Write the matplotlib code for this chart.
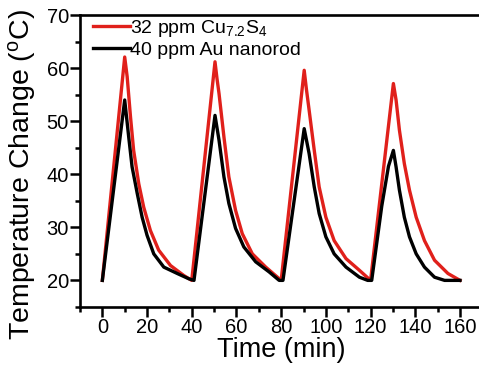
import matplotlib.pyplot as plt
from matplotlib.ticker import MultipleLocator

plt.rcParams["font.family"] = "Liberation Sans"
plt.rcParams["mathtext.fontset"] = "custom"
plt.rcParams["mathtext.rm"] = "Liberation Sans"
plt.rcParams["mathtext.it"] = "Liberation Sans"

# 32 ppm Cu7.2S4 (red)
t_cu = [0, 10, 11.1, 12.6, 14.0, 16.3, 18.5, 21.5, 25.2, 30.5, 36.5, 40,
        50.4, 51.3, 52.2, 54.4, 56.6, 59.6, 62.6, 67.1, 73.1, 80,
        90.3, 91.3, 92.5, 94.8, 97.0, 100, 103.7, 109, 115, 120,
        130.2, 131.4, 132.9, 135.1, 137.4, 140.4, 144.1, 148.6, 154.6, 160]
temp_cu = [20, 62.1, 58.4, 50.8, 44.5, 38.2, 33.8, 29.4, 25.7, 22.8, 20.9, 20,
           61.2, 58.0, 55.2, 47.0, 39.5, 33.2, 28.8, 25.0, 22.5, 20,
           59.6, 56.0, 52.1, 44.5, 37.6, 31.9, 27.5, 24.1, 21.9, 20,
           57.1, 54.0, 48.3, 42.0, 37.0, 31.9, 27.5, 23.8, 21.3, 20]

# 40 ppm Au nanorod (black)
t_au = [0, 10, 11.8, 13.3, 15.6, 17.8, 20.0, 23.0, 27.5, 33.5, 38.7, 41,
        50.4, 52.2, 54.4, 56.6, 59.6, 63.3, 68.6, 74.6, 79.1, 80.8,
        90.3, 92.5, 94.8, 97.0, 100, 103.7, 109, 115, 118.7, 120.5,
        125.0, 128.0, 130.2, 131.4, 132.9, 135.1, 137.4, 140.4, 144.1, 148.6, 153.1, 160]
temp_au = [20, 54.0, 47.0, 41.4, 36.4, 31.9, 28.5, 25.0, 22.5, 21.3, 20.3, 20,
           51.1, 46.4, 39.5, 34.5, 29.8, 26.3, 23.5, 21.6, 20, 20,
           48.6, 43.9, 37.6, 32.6, 28.2, 25.0, 22.5, 20.6, 20, 20,
           34.0, 41.5, 44.5, 41.4, 37.0, 31.9, 28.2, 25.0, 22.5, 20.6, 20, 20]

fig = plt.figure(figsize=(4.79, 3.68), dpi=100)
ax = fig.add_axes([0.167, 0.166, 0.84, 0.793])

ax.plot(t_cu, temp_cu, color="#e0201b", lw=2.4, label=r"32 ppm Cu$_{7.2}$S$_{4}$")
ax.plot(t_au, temp_au, color="black", lw=2.4, label="40 ppm Au nanorod")

ax.set_xlim(-10, 170)
ax.set_ylim(15, 70)
ax.xaxis.set_major_locator(MultipleLocator(20))
ax.xaxis.set_minor_locator(MultipleLocator(10))
ax.yaxis.set_major_locator(MultipleLocator(10))
ax.yaxis.set_minor_locator(MultipleLocator(5))
ax.tick_params(which="major", direction="out", length=7, width=1.8, labelsize=14.5, pad=1)
ax.tick_params(which="minor", direction="out", length=3.5, width=1.8)
for s in ax.spines.values():
    s.set_linewidth(1.9)

ax.set_xlabel("Time (min)", fontsize=19.5, labelpad=0)
ax.set_ylabel(r"Temperature Change ($^{\mathrm{o}}$C)", fontsize=20.5)
ax.yaxis.set_label_coords(-0.105, 0.452)

ax.legend(loc="upper left", bbox_to_anchor=(0.022, 1.005), frameon=False, fontsize=14,
          handlelength=1.9, handletextpad=0.0, borderaxespad=0.0, borderpad=0.2,
          labelspacing=0.15)

fig.savefig("out.png", dpi=100)
